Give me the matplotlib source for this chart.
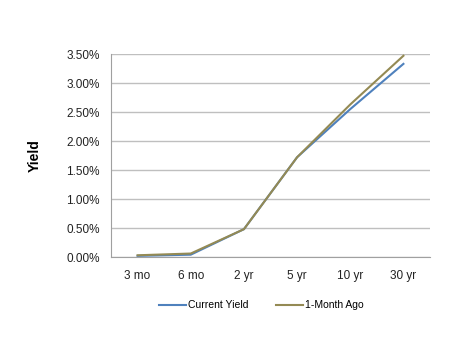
"""Treasury yield curve: current vs one month ago"""
import matplotlib
matplotlib.use('Agg')
import matplotlib.pyplot as plt
from matplotlib.ticker import FuncFormatter

plt.rcParams['font.family'] = ['Liberation Sans', 'DejaVu Sans']

maturities = ['3 mo', '6 mo', '2 yr', '5 yr', '10 yr', '30 yr']
current_yield = [0.02, 0.04, 0.48, 1.72, 2.55, 3.33]
month_ago = [0.03, 0.06, 0.48, 1.72, 2.63, 3.47]

fig = plt.figure(figsize=(4.67, 3.41), dpi=100)
ax = fig.add_axes([0.2377, 0.2463, 0.6831, 0.5953])

x = range(len(maturities))
ax.plot(x, current_yield, color='#4F81BD', linewidth=1.5, label='Current Yield')
ax.plot(x, month_ago, color='#948A54', linewidth=1.5, label='1-Month Ago')

ax.set_xlim(-0.5, len(maturities) - 0.5)
ax.set_ylim(0, 3.5)
ax.set_yticks([i * 0.5 for i in range(8)])
ax.yaxis.set_major_formatter(FuncFormatter(lambda v, p: f'{v:.2f}%'))
ax.set_xticks(list(x))
ax.set_xticklabels(maturities)
ax.tick_params(axis='both', length=0, labelsize=8.5, colors='#222222')
ax.tick_params(axis='x', pad=9)
ax.tick_params(axis='y', pad=8)

ax.grid(axis='y', color='#BFBFBF', linewidth=1)
ax.set_axisbelow(True)
for side in ['top', 'right']:
    ax.spines[side].set_visible(False)
for side in ['left', 'bottom']:
    ax.spines[side].set_color('#A0A0A0')

ax.set_ylabel('Yield', fontsize=10, fontweight='bold', labelpad=18)

fig.legend(loc='center', bbox_to_anchor=(0.56, 0.105), ncol=2, frameon=False,
           fontsize=7.5, handlelength=2.6, columnspacing=2.6, handletextpad=0.2)

plt.savefig('out.png', dpi=100)
